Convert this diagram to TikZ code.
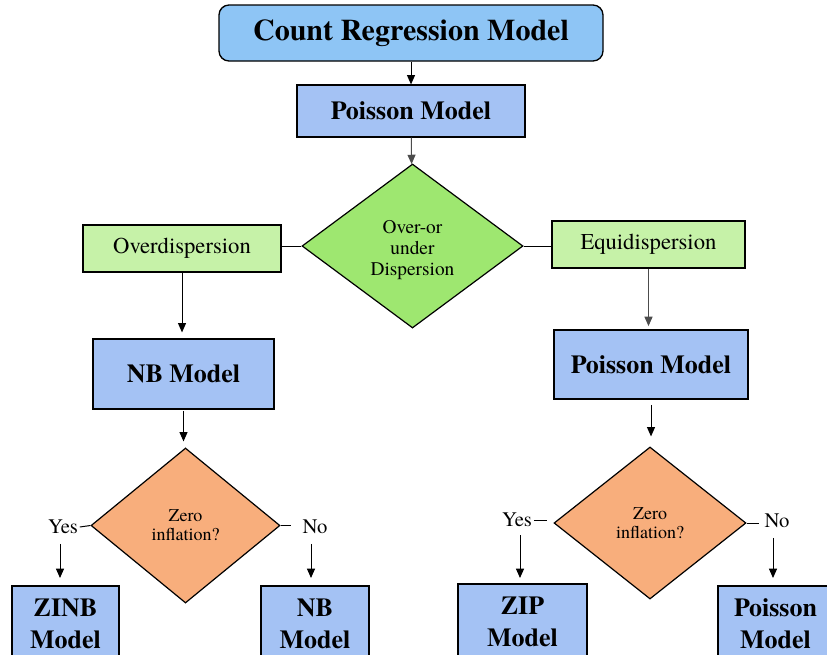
\documentclass[tikz,border=0pt]{standalone}
\usepackage{fontspec}
\setmainfont{texgyretermes}[Extension=.otf, UprightFont=*-regular, BoldFont=*-bold, ItalicFont=*-italic, BoldItalicFont=*-bolditalic]
\usetikzlibrary{shapes.geometric,arrows.meta}

\definecolor{crmBlue}{RGB}{142,197,245}
\definecolor{modelBlue}{RGB}{164,194,244}
\definecolor{dispGreen}{RGB}{158,231,112}
\definecolor{caseGreen}{RGB}{198,242,168}
\definecolor{zeroOrange}{RGB}{248,174,124}

\tikzset{every picture/.style={line width=0.75pt}}
\tikzset{
  modelbox/.style={draw, line width=0.9pt, fill=modelBlue, inner sep=0pt, align=center, font=\fontsize{19.5}{24}\selectfont\bfseries},
  casebox/.style={draw, line width=0.9pt, fill=caseGreen, inner sep=0pt, font=\fontsize{17}{20}\selectfont},
  decision/.style={draw, line width=0.9pt, diamond, inner sep=0pt, align=center},
  answer/.style={inner sep=1pt, font=\fontsize{15.5}{18}\selectfont},
  arr/.style={-{Triangle[length=7pt,width=6pt]}},
}

\begin{document}
\begin{tikzpicture}[x=0.75pt,y=0.75pt,yscale=-1,xscale=1]
\useasboundingbox (0,0) rectangle (827,654);
\clip (0,0) rectangle (827,654);

%Shape: Rounded Rect
\node [draw, fill=crmBlue, rounded corners=7.5pt, line width=1pt, inner sep=0pt, minimum width=288pt, minimum height=42pt, font=\fontsize{22.5}{26}\selectfont\bfseries] (crm) at (411,33) {Count Regression Model};
%Shape: Rectangle
\node [modelbox, minimum width=171pt, minimum height=39pt] (pm1) at (411,111) {Poisson Model};
%Shape: Diamond
\node [decision, fill=dispGreen, minimum width=165.75pt, minimum height=123pt, font=\fontsize{14.5}{16}\selectfont] (dia1) at (412.5,246) {\rule{0pt}{16pt}Over-or\\under\\Dispersion};
%Shape: Rectangle
\node [casebox, minimum width=148.5pt, minimum height=35.25pt] (over) at (182,248.5) {Overdispersion};
\node [casebox, minimum width=144.75pt, minimum height=35.25pt] (equi) at (648.5,244.5) {Equidispersion};
\node [modelbox, minimum width=135.75pt, minimum height=52.5pt] (nb1) at (183.5,374) {NB Model};
\node [modelbox, minimum width=145.5pt, minimum height=51.75pt] (pm2) at (651,364.5) {Poisson Model};
%Shape: Diamond
\node [decision, fill=zeroOrange, minimum width=141.75pt, minimum height=116.25pt, font=\fontsize{13.5}{14.25}\selectfont] (dia2) at (185.5,525.5) {Zero\\inflation?};
\node [decision, fill=zeroOrange, minimum width=144pt, minimum height=114pt, font=\fontsize{13.5}{14.25}\selectfont] (dia3) at (650,523) {Zero\\inflation?};
%Shape: Rectangle
\node [modelbox, minimum width=80.25pt, minimum height=57pt] (zinb) at (65.5,624) {ZINB\\Model};
\node [modelbox, minimum width=81pt, minimum height=57pt] (nb2) at (315,624) {NB\\Model};
\node [modelbox, minimum width=96.75pt, minimum height=57pt] (zip) at (522.5,622) {ZIP\\Model};
\node [modelbox, minimum width=86.25pt, minimum height=57pt] (pm3) at (775.5,624) {Poisson\\Model};

% Text Node
\node [answer] (yes1) at (63,527) {Yes};
\node [answer] (no1) at (315,527) {No};
\node [answer] (yes2) at (517,520) {Yes};
\node [answer] (no2) at (777,521) {No};

%Straight Lines
\draw [arr] (crm) -- (pm1);
\draw [arr, black!70] (pm1) -- (dia1);
\draw (dia1.west) -- (dia1.west -| over.east);
\draw (dia1.east) -- (dia1.east -| equi.west);
\draw [arr, shorten >=4.5pt] (over) -- (over.south |- nb1.north);
\draw [arr, black!70, shorten >=2.5pt] (equi) -- (equi.south |- pm2.north);
\draw [arr, shorten <=1pt, shorten >=4.5pt] (nb1.south) -- (nb1.south |- dia2.north);
\draw [arr, shorten <=4pt, shorten >=7.5pt] (pm2.south) -- (pm2.south |- dia3.north);
\draw (dia2.west) -- (yes1.east);
\draw (dia2.east) -- ++(7.5pt,0);
\draw (yes2.east) -- ++(10pt,0);
\draw (dia3.east) -- ++(9pt,0);
\draw [arr, shorten <=6pt, shorten >=6pt] (yes1.south) ++(-3,0) -- (60,586);
\draw [arr, shorten <=6pt, shorten >=6pt] (no1.south) ++(-4,0) -- (311,586);
\draw [arr, shorten <=5pt, shorten >=4.5pt] (yes2.south) ++(3,0) -- (520,584);
\draw [arr, shorten <=6pt, shorten >=6pt] (no2.south) ++(-4,0) -- (773,586);

\end{tikzpicture}
\end{document}
